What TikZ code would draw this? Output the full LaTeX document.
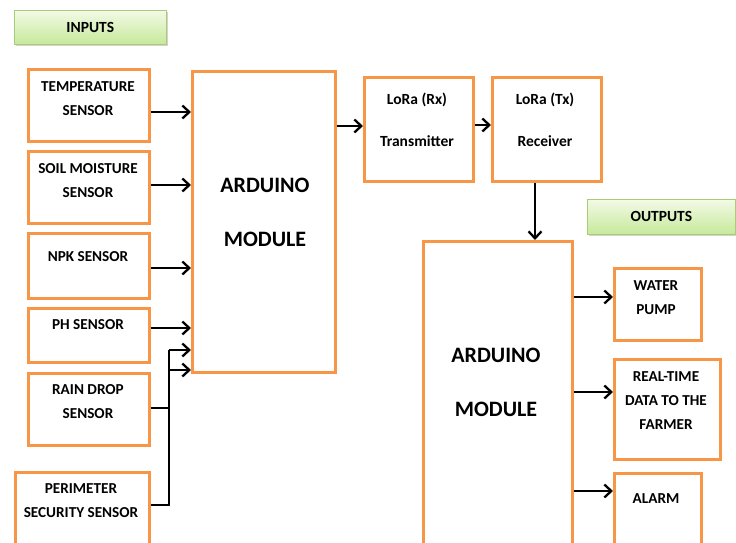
\documentclass[tikz,border=0pt]{standalone}
\usepackage{fontspec}
\setmainfont{Carlito}
\usetikzlibrary{arrows.meta,shadows,calc}
\definecolor{boxorange}{HTML}{F79646}
\definecolor{gtop}{HTML}{F3FAE6}
\definecolor{gbot}{HTML}{C6E99A}
\definecolor{gborder}{HTML}{A9CC78}
\tikzset{
  box/.style={draw=boxorange, line width=2.6pt, fill=white, anchor=north west, inner sep=0pt},
  glabel/.style={draw=gborder, line width=0.6pt, top color=gtop, bottom color=gbot,
     anchor=north west, inner sep=0pt, drop shadow={shadow xshift=1.5pt, shadow yshift=-2pt, opacity=0.35},
     font=\bfseries\fontsize{15.5}{17}\selectfont},
  txt/.style={align=center, inner sep=0pt, font=\bfseries\fontsize{15.2}{24}\selectfont},
  loratxt/.style={align=center, inner sep=0pt, font=\bfseries\fontsize{15.5}{42}\selectfont},
  bigtxt/.style={align=center, inner sep=0pt, font=\bfseries\fontsize{22}{54}\selectfont},
  arr/.style={line width=2.5pt, -{Straight Barb[length=7pt,width=13pt,line width=2.3pt]}},
  ln/.style={line width=2.5pt}
}
\begin{document}
\begin{tikzpicture}[x=1pt,y=-1pt]
\useasboundingbox (0,0) rectangle (736,543);
\clip (0,0) rectangle (736,543);
% labels
\node[glabel, minimum width=152pt, minimum height=34pt] (inputs) at (14,10) {INPUTS};
\node[glabel, minimum width=148pt, minimum height=35pt] (outputs) at (587,199) {OUTPUTS};
% sensors
\node[box, minimum width=121pt, minimum height=72pt] (temp) at (27,68) {};
\node[txt] (tempt) at (88,99) {TEMPERATURE\\SENSOR};
\node[box, minimum width=121pt, minimum height=72pt] (soil) at (27,150) {};
\node[txt] (soilt) at (88,181) {SOIL MOISTURE\\SENSOR};
\node[box, minimum width=121pt, minimum height=65pt] (npk) at (27,232) {};
\node[txt] (npkt) at (88,257) {NPK SENSOR};
\node[box, minimum width=121pt, minimum height=54pt] (ph) at (27,307) {};
\node[txt] (pht) at (88,325) {PH SENSOR};
\node[box, minimum width=121pt, minimum height=72pt] (rain) at (27,372) {};
\node[txt] (raint) at (88,402) {RAIN DROP\\SENSOR};
\node[box, minimum width=134pt, minimum height=80pt] (peri) at (14,471) {};
\node[txt] (perit) at (81,501) {PERIMETER\\SECURITY SENSOR};
% arduino 1
\node[box, minimum width=143pt, minimum height=301pt] (ard1) at (191,70) {};
\node[bigtxt] (ard1t) at (265,212) {ARDUINO\\MODULE};
% lora
\node[box, minimum width=109pt, minimum height=104pt] (rx) at (363,76) {};
\node[loratxt] (rxt) at (417,120) {LoRa (Rx)\\Transmitter};
\node[box, minimum width=109pt, minimum height=104pt] (tx) at (491,76) {};
\node[loratxt] (txt1) at (545,120) {LoRa (Tx)\\Receiver};
% arduino 2
\node[box, minimum width=149pt, minimum height=320pt] (ard2) at (422,240) {};
\node[bigtxt] (ard2t) at (496,382) {ARDUINO\\MODULE};
% outputs
\node[box, minimum width=87pt, minimum height=72pt] (pump) at (613,267) {};
\node[txt] (pumpt) at (656,298) {WATER\\PUMP};
\node[box, minimum width=106pt, minimum height=100pt] (rt) at (613,358) {};
\node[txt] (rtt) at (666,401) {REAL-TIME\\DATA TO THE\\FARMER};
\node[box, minimum width=87pt, minimum height=80pt] (alarm) at (613,472) {};
\node[txt] (alarmt) at (656,499) {ALARM};
% connectors
\draw[arr] (temp.east |- 0,112) -- (ard1.west |- 0,112);
\draw[arr] (soil.east |- 0,185) -- (ard1.west |- 0,185);
\draw[arr] (npk.east |- 0,268) -- (ard1.west |- 0,268);
\draw[arr] (ph.east |- 0,328) -- (ard1.west |- 0,328);
\coordinate (j1) at (169,408);
\coordinate (j2) at (169,505);
\draw[ln] (rain.east |- j1) -- (j1);
\draw[ln] (peri.east |- j2) -- (j2) -- (169,350);
\draw[arr] (169,350) -- (ard1.west |- 0,350);
\draw[arr] (169,370) -- (ard1.west |- 0,370);
\draw[arr] (ard1.east |- 0,126) -- (rx.west |- 0,126);
\draw[arr] (rx.east |- 0,125) -- (tx.west |- 0,125);
\draw[arr] (tx.south -| 535,0) -- (ard2.north -| 535,0);
\draw[arr] (ard2.east |- 0,297) -- (pump.west |- 0,297);
\draw[arr] (ard2.east |- 0,392) -- (rt.west |- 0,392);
\draw[arr] (ard2.east |- 0,491) -- (alarm.west |- 0,491);
\end{tikzpicture}
\end{document}
